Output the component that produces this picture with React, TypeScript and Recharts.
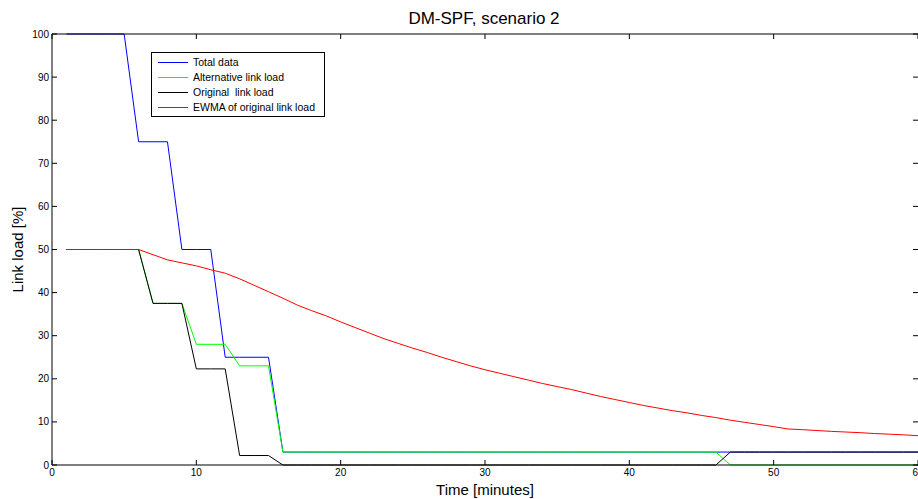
import { LineChart, Line, XAxis, YAxis, Legend } from 'recharts'

const minutes = [
  1, 2, 3, 4, 5, 6, 7, 8, 9, 10, 11, 12, 13, 14, 15, 16, 17, 18, 19, 20,
  21, 22, 23, 24, 25, 26, 27, 28, 29, 30, 31, 32, 33, 34, 35, 36, 37, 38, 39, 40,
  41, 42, 43, 44, 45, 46, 47, 48, 49, 50, 51, 52, 53, 54, 55, 56, 57, 58, 59, 60,
]

const totalData = [
  100, 100, 100, 100, 100, 75, 75, 75, 50, 50, 50, 25, 25, 25, 25, 3, 3, 3, 3, 3,
  3, 3, 3, 3, 3, 3, 3, 3, 3, 3, 3, 3, 3, 3, 3, 3, 3, 3, 3, 3,
  3, 3, 3, 3, 3, 3, 3, 3, 3, 3, 3, 3, 3, 3, 3, 3, 3, 3, 3, 3,
]

const altLoad = [
  50, 50, 50, 50, 50, 50, 37.5, 37.5, 37.5, 28, 28, 28, 23, 23, 23, 3, 3, 3, 3, 3,
  3, 3, 3, 3, 3, 3, 3, 3, 3, 3, 3, 3, 3, 3, 3, 3, 3, 3, 3, 3,
  3, 3, 3, 3, 3, 3, 0, 0, 0, 0, 0, 0, 0, 0, 0, 0, 0, 0, 0, 0,
]

const origLoad = [
  50, 50, 50, 50, 50, 50, 37.5, 37.5, 37.5, 22.3, 22.3, 22.3, 2.2, 2.2, 2.2, 0, 0, 0, 0, 0,
  0, 0, 0, 0, 0, 0, 0, 0, 0, 0, 0, 0, 0, 0, 0, 0, 0, 0, 0, 0,
  0, 0, 0, 0, 0, 0, 3, 3, 3, 3, 3, 3, 3, 3, 3, 3, 3, 3, 3, 3,
]

const ewmaLoad = [
  50, 50, 50, 50, 50, 50, 48.8, 47.6, 46.9, 46.2, 45.3, 44.5, 43.2, 41.7, 40.2, 38.7, 37.1, 35.8, 34.6, 33.2,
  31.9, 30.6, 29.3, 28.2, 27.1, 26.1, 25.0, 24.0, 23.0, 22.1, 21.3, 20.5, 19.7, 18.9, 18.2, 17.5, 16.7, 15.9, 15.2, 14.5,
  13.8, 13.2, 12.6, 12.1, 11.5, 11.0, 10.4, 9.9, 9.4, 8.9, 8.35, 8.2, 8.0, 7.8, 7.65, 7.5, 7.3, 7.15, 7.0, 6.8,
]

const seriesKeys = ['total', 'alt', 'orig', 'ewma']
const seriesNames = ['Total data', 'Alternative link load', 'Original  link load', 'EWMA of original link load']
const seriesColors = ['#0000ff', '#00ff00', '#000000', '#ff0000']

const xTicks = [0, 10, 20, 30, 40, 50, 60]
const yTicks = [0, 10, 20, 30, 40, 50, 60, 70, 80, 90, 100]

const data = minutes.map((m, i) => ({
  minute: m,
  total: totalData[i],
  alt: altLoad[i],
  orig: origLoad[i],
  ewma: ewmaLoad[i],
}))

const FONT = '"Liberation Sans", Arial, Helvetica, sans-serif'
const M = 3 // tick margin
const T = 5 // inward tick length

function LeftTick({ x, y, payload }: any) {
  const ax = x + M
  return (
    <g>
      <line x1={ax} y1={y} x2={ax + T} y2={y} stroke="#000" />
      <text x={x} y={y} dy="0.35em" textAnchor="end" fontSize={10} fill="#000" fontFamily={FONT}>
        {payload.value}
      </text>
    </g>
  )
}

function RightTick({ x, y }: any) {
  const ax = x - M
  return <line x1={ax - T} y1={y} x2={ax} y2={y} stroke="#000" />
}

function BottomTick({ x, y, payload }: any) {
  const ay = y - M
  return (
    <g>
      <line x1={x} y1={ay} x2={x} y2={ay - T} stroke="#000" />
      <text x={x} y={y + 1} dy="0.71em" textAnchor="middle" fontSize={10} fill="#000" fontFamily={FONT}>
        {payload.value}
      </text>
    </g>
  )
}

function TopTick({ x, y }: any) {
  const ay = y + M
  return <line x1={x} y1={ay} x2={x} y2={ay + T} stroke="#000" />
}

function LegendBox() {
  return (
    <div
      style={{
        border: '1px solid #000',
        background: '#fff',
        width: 174,
        height: 65,
        boxSizing: 'border-box',
        paddingTop: 2,
        fontFamily: FONT,
        fontSize: 10.5,
      }}
    >
      {seriesNames.map((name, i) => (
        <div key={seriesKeys[i]} style={{ display: 'flex', alignItems: 'center', height: 15 }}>
          <svg width={30} height={3} style={{ marginLeft: 6, display: 'block' }}>
            <line x1={0} y1={1.5} x2={30} y2={1.5} stroke={seriesColors[i]} strokeWidth={1} />
          </svg>
          <span style={{ marginLeft: 5, whiteSpace: 'pre', lineHeight: '15px' }}>{name}</span>
        </div>
      ))}
    </div>
  )
}

export default function App() {
  return (
    <div
      style={{
        position: 'absolute',
        left: 0,
        top: 0,
        width: 918,
        height: 499,
        overflow: 'hidden',
        background: '#fff',
      }}
    >
      <div
        style={{
          position: 'absolute',
          left: 334,
          width: 300,
          top: 10,
          textAlign: 'center',
          fontFamily: FONT,
          fontSize: 17,
          lineHeight: '17px',
          zIndex: 2,
        }}
      >
        DM-SPF, scenario 2
      </div>
      <LineChart width={920} height={499} data={data} margin={{ top: 33, right: 1, bottom: 0, left: 0 }}>
        <XAxis
          dataKey="minute"
          type="number"
          domain={[0, 60]}
          ticks={xTicks}
          interval={0}
          height={34}
          tickSize={0}
          tickMargin={M}
          tickLine={false}
          tick={<BottomTick />}
          axisLine={{ stroke: '#000' }}
          label={{
            value: 'Time [minutes]',
            position: 'insideBottom',
            offset: 4,
            fontSize: 15,
            fill: '#000',
            fontFamily: FONT,
          }}
        />
        <XAxis
          xAxisId="top"
          orientation="top"
          dataKey="minute"
          type="number"
          domain={[0, 60]}
          ticks={xTicks}
          interval={0}
          height={1}
          tickSize={0}
          tickMargin={M}
          tickLine={false}
          tick={<TopTick />}
          axisLine={{ stroke: '#000' }}
        />
        <YAxis
          type="number"
          domain={[0, 100]}
          ticks={yTicks}
          interval={0}
          width={52}
          tickSize={0}
          tickMargin={M}
          tickLine={false}
          tick={<LeftTick />}
          axisLine={{ stroke: '#000' }}
          label={{
            value: 'Link load [%]',
            angle: -90,
            position: 'insideLeft',
            offset: 18,
            fontSize: 15,
            fill: '#000',
            fontFamily: FONT,
            style: { textAnchor: 'middle' },
          }}
        />
        <YAxis
          yAxisId="right"
          orientation="right"
          type="number"
          domain={[0, 100]}
          ticks={yTicks}
          interval={0}
          width={1}
          tickSize={0}
          tickMargin={M}
          tickLine={false}
          tick={<RightTick />}
          axisLine={false}
        />
        <Legend
          layout="horizontal"
          verticalAlign="middle"
          align="center"
          content={<LegendBox />}
          wrapperStyle={{ left: 151, top: 52, width: 174, height: 65 }}
        />
        {seriesKeys.map((key, i) => (
          <Line
            key={key}
            name={seriesNames[i]}
            type="linear"
            dataKey={key}
            xAxisId={key === 'ewma' ? 'top' : 0}
            yAxisId={key === 'ewma' ? 'right' : 0}
            stroke={seriesColors[i]}
            strokeWidth={1}
            dot={false}
            activeDot={false}
            isAnimationActive={false}
          />
        ))}
      </LineChart>
    </div>
  )
}
